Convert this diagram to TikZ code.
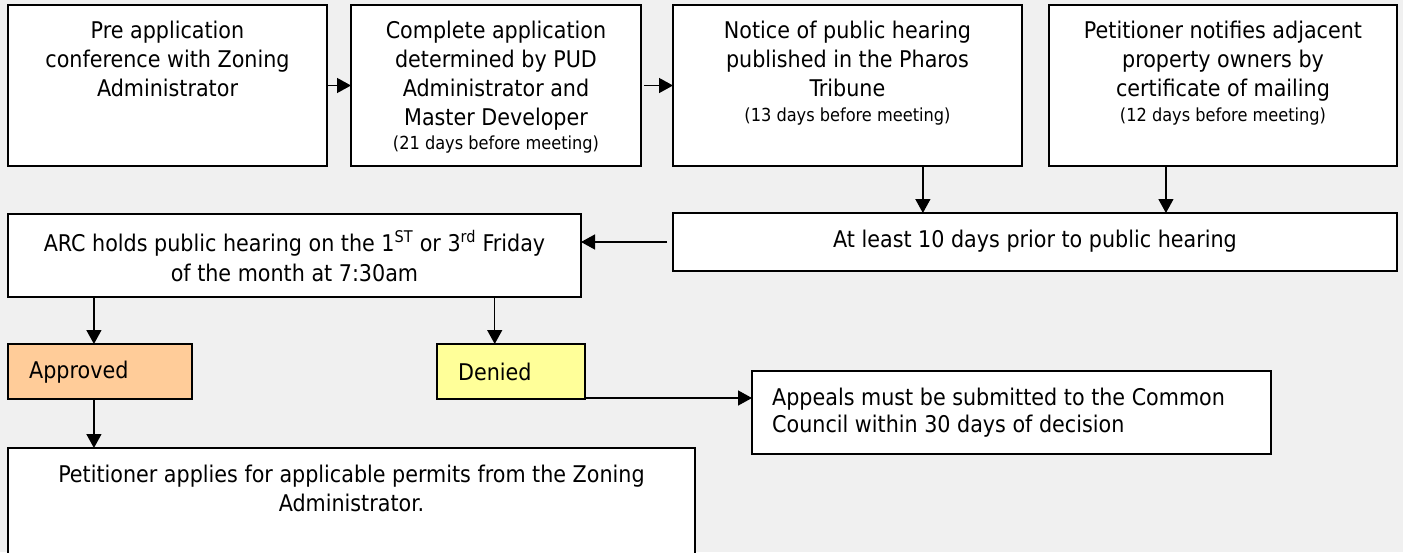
\documentclass[tikz,border=0pt]{standalone}
\usepackage{fontspec}
\setmainfont{DejaVu Sans Condensed}
\usetikzlibrary{arrows.meta,calc}
\definecolor{bg}{HTML}{F0F0F0}
\definecolor{apfill}{HTML}{FFCC99}
\definecolor{dnfill}{HTML}{FFFF99}
\begin{document}
\begin{tikzpicture}[x=1pt,y=-1pt,
  box/.style={draw=black, line width=1.8pt, fill=white, anchor=north west, inner sep=0pt, outer sep=0pt},
  txt/.style={font=\fontsize{23}{29}\selectfont, align=center, inner sep=0pt},
  conn/.style={line width=1.4pt, -{Triangle[length=14pt,width=15pt]}}
]
\useasboundingbox (0,0) rectangle (1403,552);
\clip (0,0) rectangle (1403,552);
\fill[bg] (0,0) rectangle (1403,552);

% boxes
\node[box, minimum width=319pt, minimum height=161pt] (b1) at (8,5) {};
\node[box, minimum width=290pt, minimum height=161pt] (b2) at (351,5) {};
\node[box, minimum width=349pt, minimum height=161pt] (b3) at (673,5) {};
\node[box, minimum width=348pt, minimum height=161pt] (b4) at (1049,5) {};
\node[box, minimum width=724pt, minimum height=58pt] (b5) at (673,213) {};
\node[box, minimum width=573pt, minimum height=83pt] (arc) at (8,214) {};
\node[box, fill=apfill, minimum width=184pt, minimum height=55pt] (ap) at (8,344) {};
\node[box, fill=dnfill, minimum width=148pt, minimum height=55pt] (dn) at (437,344) {};
\node[box, minimum width=519pt, minimum height=83pt] (apl) at (752,371) {};
\node[box, minimum width=687pt, minimum height=130pt] (pet) at (8,448) {};

% texts
\node[txt, anchor=north] (t1) at (167.5,20.5) {Pre application\\conference with Zoning\\Administrator};
\node[txt, anchor=north] (t2) at (496,20.5) {Complete application\\determined by PUD\\Administrator and\\Master Developer\\[-5pt]{\fontsize{18}{22}\selectfont (21 days before meeting)}};
\node[txt, anchor=north] (t3) at (847.5,20.5) {Notice of public hearing\\published in the Pharos\\Tribune\\[-4pt]{\fontsize{18}{22}\selectfont (13 days before meeting)}};
\node[txt, anchor=north] (t4) at (1223,20.5) {Petitioner notifies adjacent\\property owners by\\certificate of mailing\\[-4pt]{\fontsize{18}{22}\selectfont (12 days before meeting)}};
\node[txt] (t5) at (1035,241) {At least 10 days prior to public hearing};
\node[txt, font=\fontsize{23}{30}\selectfont] (tarc) at (294.5,256) {ARC holds public hearing on the 1\textsuperscript{ST} or 3\textsuperscript{rd} Friday\\of the month at 7:30am};
\node[txt, anchor=west] (tap) at (29,372) {Approved};
\node[txt, anchor=west] (tdn) at (458,372) {Denied};
\node[txt, anchor=west, align=left, font=\fontsize{23}{27}\selectfont] (tapl) at (772,412.5) {Appeals must be submitted to the Common\\Council within 30 days of decision};
\node[txt, anchor=north] (tpet) at (351.5,464.5) {Petitioner applies for applicable permits from the Zoning\\Administrator.};

% connectors
\coordinate (p3) at ($(b3.south west)!0.716!(b3.south east)$);
\coordinate (p4) at ($(b4.south west)!0.336!(b4.south east)$);
\coordinate (pa) at ($(ap.north west)!0.467!(ap.north east)$);
\coordinate (pd) at ($(dn.north west)!0.39!(dn.north east)$);
\coordinate (pdn) at ($(dn.south east)+(0,-1)$);
\draw[conn] (b1) -- (b2);
\draw[conn, shorten <=3pt] (b2) -- (b3);
\draw[conn] (p3) -- (p3 |- b5.north);
\draw[conn] (p4) -- (p4 |- b5.north);
\draw[conn, shorten <=6pt] (b5.west) -- (b5.west -| arc.east);
\draw[conn] (pa |- arc.south) -- (pa);
\draw[conn] (pd |- arc.south) -- (pd);
\draw[conn] (pa |- ap.south) -- (pa |- pet.north);
\draw[conn] (pdn) -- (pdn -| apl.west);
\end{tikzpicture}
\end{document}
